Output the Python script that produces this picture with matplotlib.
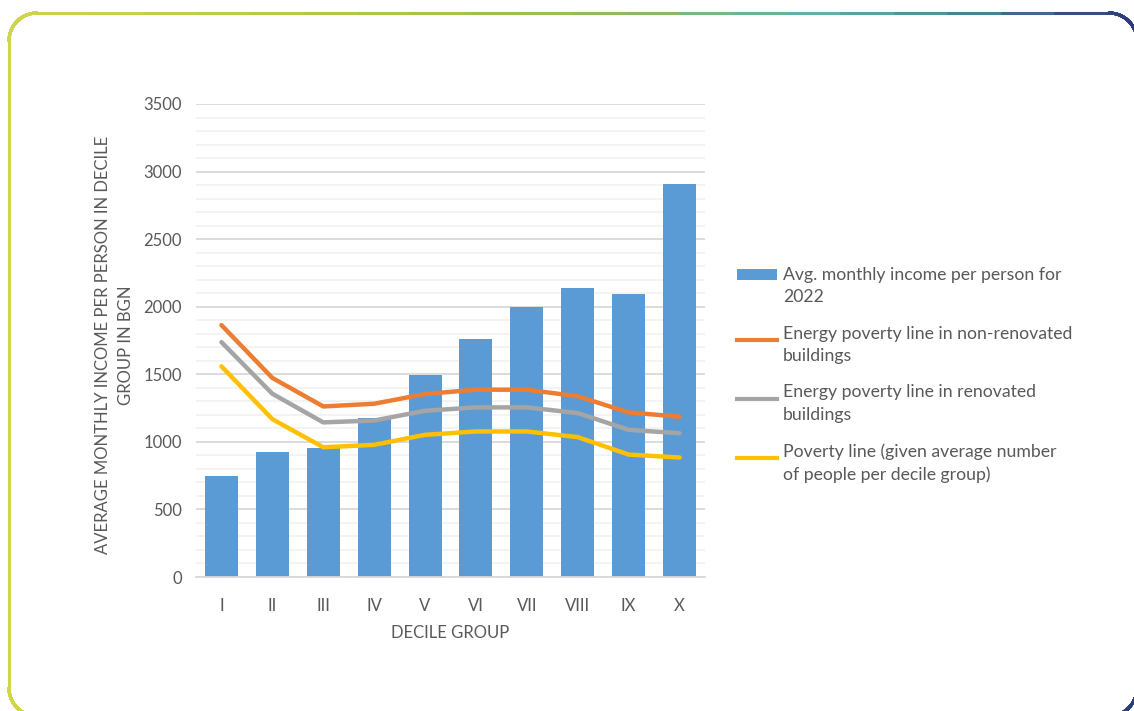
import numpy as np
import matplotlib.pyplot as plt
from matplotlib.patches import Patch
from matplotlib.lines import Line2D
from matplotlib.collections import LineCollection
from matplotlib.colors import LinearSegmentedColormap
from matplotlib.legend_handler import HandlerLine2D, HandlerPatch

plt.rcParams['font.family'] = ['Lato', 'DejaVu Sans']

groups = ['I', 'II', 'III', 'IV', 'V', 'VI', 'VII', 'VIII', 'IX', 'X']
income = [745, 925, 958, 1180, 1498, 1760, 1998, 2138, 2092, 2905]
ep_nonren = [1864, 1473, 1262, 1282, 1354, 1386, 1386, 1337, 1218, 1186]
ep_ren = [1738, 1356, 1144, 1158, 1230, 1255, 1255, 1213, 1089, 1064]
pov_line = [1559, 1168, 960, 978, 1052, 1077, 1077, 1035, 906, 884]

labels = ['Avg. monthly income per person for\n2022',
          'Energy poverty line in non-renovated\nbuildings',
          'Energy poverty line in renovated\nbuildings',
          'Poverty line (given average number\nof people per decile group)']

c_bar = '#5B9BD5'
c_or = '#ED7D31'
c_gr = '#A5A5A5'
c_ye = '#FFC000'
txt = '#595959'

W, H = 1134, 711
fig = plt.figure(figsize=(W / 100, H / 100), dpi=100)

# rounded gradient frame
bg = fig.add_axes([0, 0, 1, 1], zorder=-5)
bg.set_xlim(0, W)
bg.set_ylim(H, 0)
bg.axis('off')
x0, y0, x1, y1, r = 9, 13, 1137, 716, 28
t = np.linspace(0, np.pi / 2, 30)
pts = []
pts += [(x0 + r - r * np.cos(a), y0 + r - r * np.sin(a)) for a in t]
pts += [(x1 - r + r * np.sin(a), y0 + r - r * np.cos(a)) for a in t]
pts += [(x1 - r + r * np.cos(a), y1 - r + r * np.sin(a)) for a in t]
pts += [(x0 + r - r * np.sin(a), y1 - r + r * np.cos(a)) for a in t]
pts.append(pts[0])
dense = []
for p, q in zip(pts[:-1], pts[1:]):
    for s in np.linspace(0, 1, 20, endpoint=False):
        dense.append((p[0] + (q[0] - p[0]) * s, p[1] + (q[1] - p[1]) * s))
dense.append(pts[0])
dense = np.array(dense)
segs = np.stack([dense[:-1], dense[1:]], axis=1)
cmap = LinearSegmentedColormap.from_list('frame', [
    (0.0, '#D0D64A'), (0.35, '#A9C646'), (0.55, '#8DBB5E'),
    (0.72, '#5FB1A8'), (0.85, '#4C8898'), (1.0, '#2B3B7C')])
lc = LineCollection(segs, cmap=cmap, linewidths=2.2, capstyle='round')
lc.set_array(segs[:, :, 0].mean(axis=1) / W)
lc.set_clim(0, 1)
bg.add_collection(lc)

ax = fig.add_axes([196 / W, 1 - 577 / H, 509 / W, 473 / H])
x = np.arange(len(groups))
ax.bar(x, income, width=0.65, color=c_bar, zorder=2)
line_kw = dict(lw=3.2, solid_joinstyle='round', solid_capstyle='round', zorder=3)
ax.plot(x, ep_nonren, color=c_or, **line_kw)
ax.plot(x, ep_ren, color=c_gr, **line_kw)
ax.plot(x, pov_line, color=c_ye, **line_kw)

ax.set_xlim(-0.5, len(groups) - 0.5)
ax.set_ylim(0, 3500)
ax.set_yticks(np.arange(0, 3501, 500))
ax.set_yticks(np.arange(0, 3501, 100), minor=True)
ax.grid(axis='y', which='major', color='#D9D9D9', lw=1.3, zorder=0)
ax.grid(axis='y', which='minor', color='#F2F2F2', lw=1.3, zorder=0)
ax.set_axisbelow(True)
ax.set_xticks(x)
ax.set_xticklabels(groups)
for s in ['top', 'right', 'left']:
    ax.spines[s].set_visible(False)
ax.spines['bottom'].set_color('#D9D9D9')
ax.spines['bottom'].set_linewidth(1.3)
ax.tick_params(axis='both', which='both', length=0, colors=txt, labelsize=12)
ax.tick_params(axis='y', pad=10)
ax.tick_params(axis='x', pad=15)
ax.set_xlabel('DECILE GROUP', color=txt, fontsize=12, labelpad=8)
ax.set_ylabel('AVERAGE MONTHLY INCOME PER PERSON IN DECILE\nGROUP IN BGN',
              color=txt, fontsize=12, va='center', linespacing=1.6)
ax.yaxis.set_label_coords(-0.160, 0.49)


# legend handles sit on the first text line, as in the original
class UpLine(HandlerLine2D):
    def create_artists(self, legend, h, xd, yd, w, ht, fs, trans):
        return super().create_artists(legend, h, xd, yd - 0.66 * fs, w, ht, fs, trans)


class UpPatch(HandlerPatch):
    def create_artists(self, legend, h, xd, yd, w, ht, fs, trans):
        return super().create_artists(legend, h, xd, yd - 0.66 * fs, w, ht, fs, trans)


handles = [Patch(facecolor=c_bar),
           Line2D([], [], color=c_or, lw=3),
           Line2D([], [], color=c_gr, lw=3),
           Line2D([], [], color=c_ye, lw=3)]
leg = fig.legend(handles, labels, loc='upper left',
                 bbox_to_anchor=(721 / W, 1 - 251 / H), frameon=False,
                 fontsize=12.7, handlelength=2.3, handleheight=0.55,
                 handletextpad=0.3, labelspacing=1.15,
                 handler_map={Patch: UpPatch(), Line2D: UpLine()})
for tx in leg.get_texts():
    tx.set_color(txt)
    tx.set_linespacing(1.5)

fig.savefig('out.png', dpi=100)
